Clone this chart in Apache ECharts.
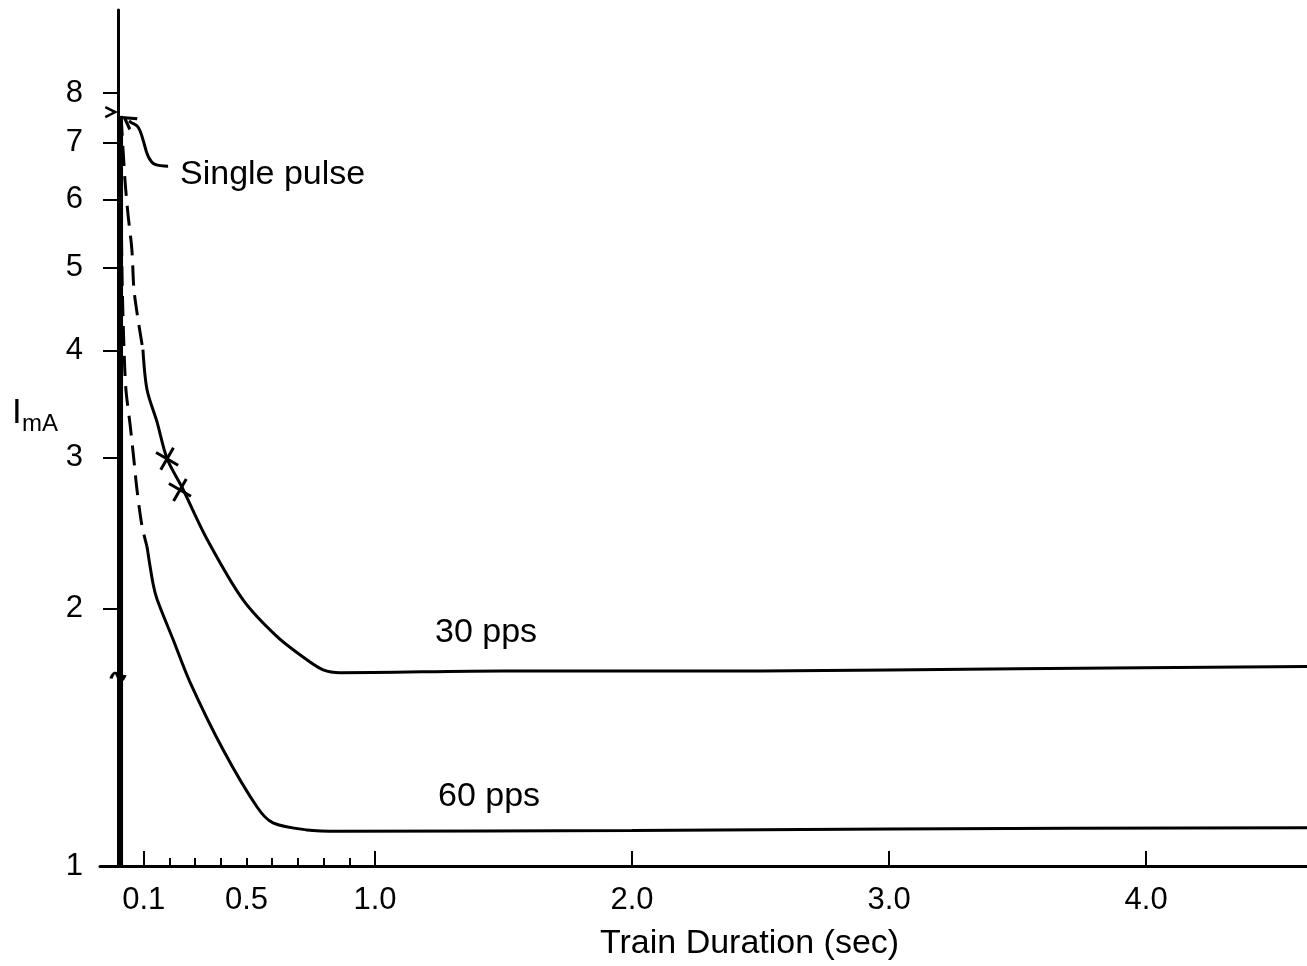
<!DOCTYPE html>
<html>
<head>
<meta charset="utf-8">
<title>Train Duration</title>
<script src="https://cdn.jsdelivr.net/npm/echarts@6.0.0/dist/echarts.min.js"></script>
<style>
  html, body { margin: 0; padding: 0; background: #fff; }
  #chart { width: 1307px; height: 966px; }
</style>
</head>
<body>
<div id="chart"></div>
<script>
// ticks / labels
const xMajorTicks = [0.1, 1, 2, 3, 4];
const xMinorTicks = [0.2, 0.3, 0.4, 0.5, 0.6, 0.7, 0.8, 0.9];
const xLabels = [0.1, 0.5, 1, 2, 3, 4];
const yTicks = [1, 2, 3, 4, 5, 6, 7, 8];

// 30 pps curve (dashed start, then solid)
const pps30Dash = [[0.012, 7.52], [0.027, 6.34], [0.039, 5.77], [0.054, 5.25], [0.062, 4.72], [0.078, 4.35], [0.097, 4.01]];
const pps30Solid = [[0.097, 4.01], [0.113, 3.60], [0.152, 3.30], [0.191, 2.99], [0.249, 2.77], [0.346, 2.41], [0.486, 2.047],
  [0.619, 1.853], [0.735, 1.741], [0.798, 1.695], [0.864, 1.682], [1.5, 1.69], [2.5, 1.69], [3.5, 1.70], [4.626, 1.71]];

// 60 pps curve
const pps60Dash = [[0.008, 7.52], [0.012, 6.01], [0.016, 4.85], [0.023, 4.05], [0.031, 3.60], [0.047, 3.28], [0.062, 2.98],
  [0.074, 2.75], [0.093, 2.50], [0.113, 2.36]];
const pps60Solid = [[0.113, 2.36], [0.136, 2.14], [0.152, 2.05], [0.214, 1.84], [0.280, 1.64], [0.409, 1.367], [0.541, 1.172],
  [0.603, 1.123], [0.735, 1.102], [0.864, 1.098], [2.0, 1.10], [3.0, 1.105], [4.626, 1.108]];

// single pulse + annotations
const singlePulse = [[0.01, 7.52], [0.01, 1]];
const pulseArrow = [[0.195, 6.57], [0.144, 6.6], [0.117, 6.75], [0.097, 7.06], [0.078, 7.3], [0.051, 7.39], [0.043, 7.42]];
const crossMarks = [[0.191, 2.99], [0.241, 2.75]];
const axisArrowMark = [[-0.03, 7.6]];
const axisBreakMark = [[0, 1.664]];

const FONT = 'Liberation Sans, Arial, sans-serif';
const chart = echarts.init(document.getElementById('chart'));

let lineSeries = function (data, dashed) {
  return {
    type: 'line',
    data: data,
    showSymbol: false,
    smooth: 0.3,
    silent: true,
    lineStyle: { color: '#000', width: 3, type: dashed ? [20, 10] : 'solid' }
  };
};

const option = {
  backgroundColor: '#fff',
  animation: false,
  grid: { left: 100, right: 0, top: 10, bottom: 100, containLabel: false, outerBoundsMode: 'none' },
  xAxis: [
    {
      type: 'value', min: -0.07, max: 4.626,
      axisLine: { show: true, onZero: false, lineStyle: { color: '#000', width: 3 } },
      axisTick: { show: true, inside: true, length: 15, customValues: xMajorTicks, lineStyle: { color: '#000', width: 2 } },
      axisLabel: {
        customValues: xLabels, margin: 19, color: '#000', fontSize: 31, fontFamily: FONT,
        formatter: v => v.toFixed(1)
      },
      splitLine: { show: false }
    },
    {
      type: 'value', min: -0.07, max: 4.626, position: 'bottom',
      axisLine: { show: false },
      axisTick: { show: true, inside: true, length: 8, customValues: xMinorTicks, lineStyle: { color: '#000', width: 2 } },
      axisLabel: { show: false },
      splitLine: { show: false }
    }
  ],
  yAxis: {
    type: 'log', logBase: 10, min: 1, max: 10,
    axisLine: { show: true, onZero: true, lineStyle: { color: '#000', width: 3 } },
    axisTick: { show: true, length: 15, customValues: yTicks, lineStyle: { color: '#000', width: 2 } },
    axisLabel: { customValues: yTicks, margin: 17, color: '#000', fontSize: 31, fontFamily: FONT, formatter: v => String(v) },
    splitLine: { show: false },
    minorTick: { show: false }
  },
  graphic: [
    { type: 'text', left: 180, top: 158, style: { text: 'Single pulse', fontSize: 34, fontFamily: FONT, fill: '#000' } },
    { type: 'text', left: 435, top: 616, style: { text: '30 pps', fontSize: 34, fontFamily: FONT, fill: '#000' } },
    { type: 'text', left: 438, top: 780, style: { text: '60 pps', fontSize: 34, fontFamily: FONT, fill: '#000' } },
    { type: 'text', left: 600, top: 927, style: { text: 'Train Duration (sec)', fontSize: 34, fontFamily: FONT, fill: '#000' } },
    { type: 'text', left: 12, top: 396, style: { text: 'I', fontSize: 35, fontFamily: FONT, fill: '#000' } },
    { type: 'text', left: 22, top: 412, style: { text: 'mA', fontSize: 24, fontFamily: FONT, fill: '#000' } }
  ],
  series: [
    lineSeries(pps30Dash, true),
    lineSeries(pps30Solid, false),
    lineSeries(pps60Dash, true),
    lineSeries(pps60Solid, false),
    {
      type: 'line', data: singlePulse, showSymbol: false, silent: true,
      lineStyle: { color: '#000', width: 5 }
    },
    {
      // curved pointer to the single pulse
      type: 'line', data: pulseArrow, smooth: 0.4, silent: true,
      symbol: (val, params) => params.dataIndex === pulseArrow.length - 1 ? 'path://M0,10 L5,0 L10,10' : 'none',
      symbolSize: [13, 11], symbolRotate: 55, showAllSymbol: true,
      itemStyle: { color: 'none', borderColor: '#000', borderWidth: 3, opacity: 1 },
      lineStyle: { color: '#000', width: 3 }
    },
    {
      type: 'scatter', data: crossMarks, silent: true,
      symbol: 'path://M0,0 L10,10 M10,0 L0,10', symbolSize: 18, symbolRotate: 15,
      itemStyle: { color: 'none', borderColor: '#000', borderWidth: 3, opacity: 1 }
    },
    {
      type: 'scatter', data: axisArrowMark, silent: true,
      symbol: 'path://M0,0 L10,5 L0,10', symbolSize: [10, 10],
      itemStyle: { color: 'none', borderColor: '#000', borderWidth: 2.5, opacity: 1 }
    },
    {
      type: 'scatter', data: axisBreakMark, silent: true,
      symbol: 'path://M0,6 Q3,0 5,5 T10,4', symbolSize: [14, 8],
      itemStyle: { color: 'none', borderColor: '#000', borderWidth: 2.5, opacity: 1 }
    }
  ]
};

chart.setOption(option);
</script>
</body>
</html>
